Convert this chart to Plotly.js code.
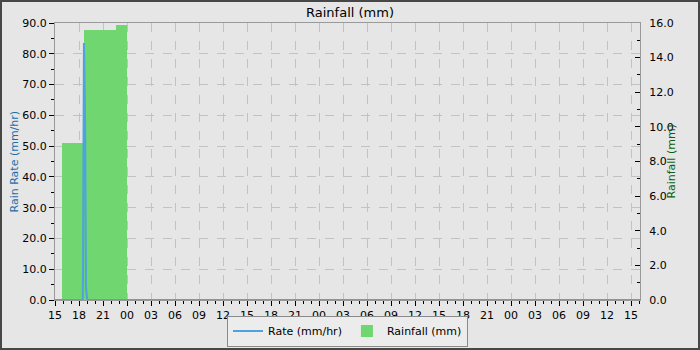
<!DOCTYPE html>
<html><head><meta charset="utf-8">
<script src="https://cdn.plot.ly/plotly-3.0.1.min.js"></script>
<style>
html,body{margin:0;padding:0;background:#e6e6e6;}
#chart{width:696px;height:346px;border:2px solid #474747;}
</style></head>
<body><div id="chart"></div>
<script>
// Rain rate (mm/hr)
const rateTimes = ["2024-01-01 15:00","2024-01-01 18:28","2024-01-01 18:30","2024-01-01 18:37","2024-01-01 18:46","2024-01-01 18:52","2024-01-01 19:00","2024-01-01 19:04","2024-01-04 16:07"];
const rateValues = [0,0,9.2,83.5,58.0,4.3,0.7,0,0];
// Rainfall (mm), one bar per period
const rainStart = ["2024-01-01 15:52","2024-01-01 18:38","2024-01-01 22:37"];
const rainEnd   = ["2024-01-01 18:38","2024-01-01 22:37","2024-01-02 00:00"];
const rainValues = [9.05,15.62,15.86];
const xRange = ["2024-01-01 15:00","2024-01-04 16:07:30"];

const toMs = s => new Date(s.replace(' ','T')+'Z').getTime();
const rainWidth = rainStart.map((s,i) => toMs(rainEnd[i]) - toMs(s));

const blue = '#4ca3de', green = '#70d670';
const tickFont = {family:'DejaVu Sans', size:11, color:'#000'};

const traces = [
 {x: rateTimes, y: rateValues, name:'Rate (mm/hr)', type:'scatter', mode:'lines',
  line:{color:blue, width:2}, yaxis:'y2'},
 {x: rainStart, y: rainValues, width: rainWidth, offset:0, name:'Rainfall (mm)', type:'bar',
  marker:{color:green, line:{width:0}}, yaxis:'y'}
];

const layout = {
 width:696, height:346,
 margin:{l:53, r:58, t:21, b:48, autoexpand:false},
 paper_bgcolor:'#e6e6e6', plot_bgcolor:'#e6e6e6',
 font:{family:'DejaVu Sans', size:11, color:'#000'},
 title:{text:'Rainfall (mm)', x:0.5, xanchor:'center', y:0.982, yanchor:'top', font:{family:'DejaVu Sans', size:13, color:'#000'}},
 showlegend:true, bargap:0,
 legend:{orientation:'h', x:0.5, xanchor:'center', y:-0.168, yanchor:'bottom', itemwidth:30,
   bgcolor:'#ececec', bordercolor:'#8a8a8a', borderwidth:1, font:{family:'DejaVu Sans', size:11, color:'#000'}},
 annotations:[
   {text:'Rain Rate (mm/hr)', xref:'paper', yref:'paper', x:-0.0684, y:0.5, textangle:-90, showarrow:false,
    xanchor:'center', yanchor:'middle', font:{family:'DejaVu Sans', size:11, color:'#1d6ea8'}},
   {text:'Rainfall (mm)', xref:'paper', yref:'paper', x:1.0547, y:0.5, textangle:-90, showarrow:false,
    xanchor:'center', yanchor:'middle', font:{family:'DejaVu Sans', size:11, color:'#0b5e0b'}}
 ],
 xaxis:{type:'date', range:xRange, tick0:'2024-01-01 15:00', dtick:10800000, tickformat:'%H',
   ticks:'outside', ticklen:5, tickcolor:'#000', showline:true, linecolor:'#999', mirror:true, zeroline:false,
   showgrid:true, gridcolor:'#c2c2c2', griddash:'dash', gridwidth:1,
   minor:{dtick:3600000, ticks:'outside', ticklen:3, tickcolor:'#000', showgrid:false},
   tickfont:tickFont},
 yaxis:{side:'right', range:[0,16], dtick:2, tickformat:'.1f', ticks:'inside', ticklen:5, tickcolor:'#000',
   showgrid:false, zeroline:false, showline:true, linecolor:'#999', ticklabelstandoff:6,
   minor:{dtick:1, ticks:'inside', ticklen:3, tickcolor:'#000'},
   tickfont:tickFont},
 yaxis2:{overlaying:'y', side:'left', range:[0,90], dtick:10, tickformat:'.1f', ticks:'outside', ticklen:5, tickcolor:'#000',
   showline:true, linecolor:'#999', zeroline:false,
   showgrid:true, gridcolor:'#c2c2c2', griddash:'dash', gridwidth:1,
   minor:{dtick:5, ticks:'outside', ticklen:3, tickcolor:'#000', showgrid:false},
   tickfont:tickFont}
};
Plotly.newPlot('chart', traces, layout, {displayModeBar:false, staticPlot:true});
</script></body></html>
